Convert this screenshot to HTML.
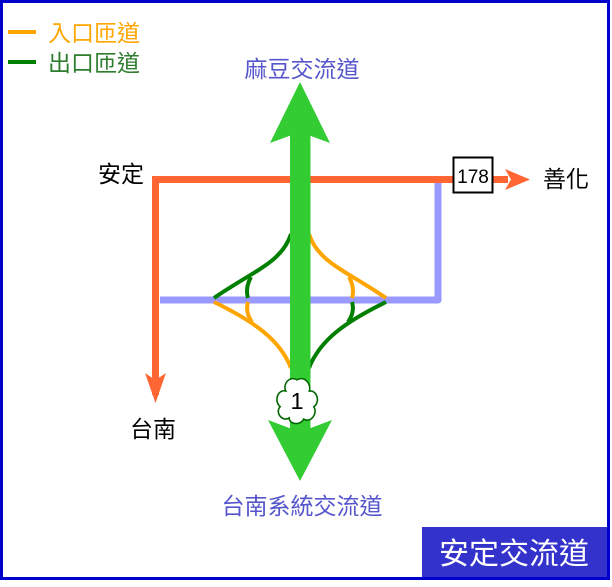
<!DOCTYPE html>
<html><head><meta charset="utf-8"><style>
html,body{margin:0;padding:0;background:#fff;}
svg{display:block;}
text{font-family:"Liberation Sans","Noto Sans CJK TC",sans-serif;}
</style></head><body>
<svg width="612" height="587" viewBox="0 0 612 587" xmlns="http://www.w3.org/2000/svg">
<rect x="0" y="0" width="612" height="587" fill="#fff"/>
<rect x="1.5" y="1.5" width="607" height="577" fill="none" stroke="#0000cc" stroke-width="3"/>
<!-- legend -->
<line x1="8" y1="32" x2="36" y2="32" stroke="#ffa500" stroke-width="4"/>
<line x1="8" y1="62" x2="36" y2="62" stroke="#007f00" stroke-width="4"/>
<text x="48" y="41" font-size="23" fill="#ffa500">入口匝道</text>
<text x="48" y="71" font-size="23" fill="#2e7d2e">出口匝道</text>
<!-- lavender road -->
<polyline points="160,300 438,300 438,183" fill="none" stroke="#9999ff" stroke-width="7" stroke-linejoin="round"/>
<!-- orange road -->
<polyline points="155.5,395 155.5,179.5 508,179.5" fill="none" stroke="#ff6633" stroke-width="7"/>
<polygon points="505,169 530,179.5 505,190 511,179.5" fill="#ff6633"/>
<polygon points="145,373 155.5,403 166,373 155.5,380" fill="#ff6633"/>
<!-- ramps -->
<g fill="none" stroke-width="4">
<path d="M291,234 C282,262 255,270 214,298" stroke="#007f00"/>
<path d="M251,277 Q245,288 248,298" stroke="#007f00"/>
<path d="M214,302 C255,322 280,340 291,368" stroke="#ffa500"/>
<path d="M248,302 Q245,312 252,322" stroke="#ffa500"/>
<path d="M309,234 C318,262 345,270 386,298" stroke="#ffa500"/>
<path d="M349,277 Q355,288 352,298" stroke="#ffa500"/>
<path d="M386,302 C345,322 320,340 309,368" stroke="#007f00"/>
<path d="M352,302 Q355,312 348,322" stroke="#007f00"/>
</g>
<!-- highway -->
<rect x="290" y="125" width="20.5" height="310" fill="#33cc33"/>
<polygon points="300,82 330,143 300,132 270,143" fill="#33cc33"/>
<polygon points="300,481 332,420 300,432 268,420" fill="#33cc33"/>
<!-- shield -->
<g transform="translate(297,400) scale(1.12)">
<path d="M0,-18 C7,-22 13,-14 11,-8 C18,-9 21,2 15,6 C19,12 12,21 6,17 C3,23 -7,22 -7,16 C-13,20 -20,11 -15,6 C-21,1 -17,-10 -10,-8 C-13,-14 -7,-22 0,-18 Z" fill="#fff" stroke="#006600" stroke-width="1.4"/>
<text x="0" y="8" font-size="21" text-anchor="middle" fill="#000">1</text>
</g>
<!-- 178 -->
<rect x="453.5" y="157.5" width="39" height="35" fill="#fff" stroke="#000" stroke-width="2"/>
<text x="473" y="183" font-size="19" text-anchor="middle" fill="#000">178</text>
<!-- labels -->
<text x="302" y="77" font-size="23" text-anchor="middle" fill="#5555cc">麻豆交流道</text>
<text x="98" y="182" font-size="23" fill="#000">安定</text>
<text x="543" y="187" font-size="23" fill="#000">善化</text>
<text x="130" y="437" font-size="23" fill="#000">台南</text>
<text x="302" y="514" font-size="23" text-anchor="middle" fill="#5555cc">台南系統交流道</text>
<rect x="422" y="527" width="185" height="50" fill="#3333cc"/>
<text x="514" y="564" font-size="30" text-anchor="middle" fill="#fff">安定交流道</text>
</svg>
</body></html>
